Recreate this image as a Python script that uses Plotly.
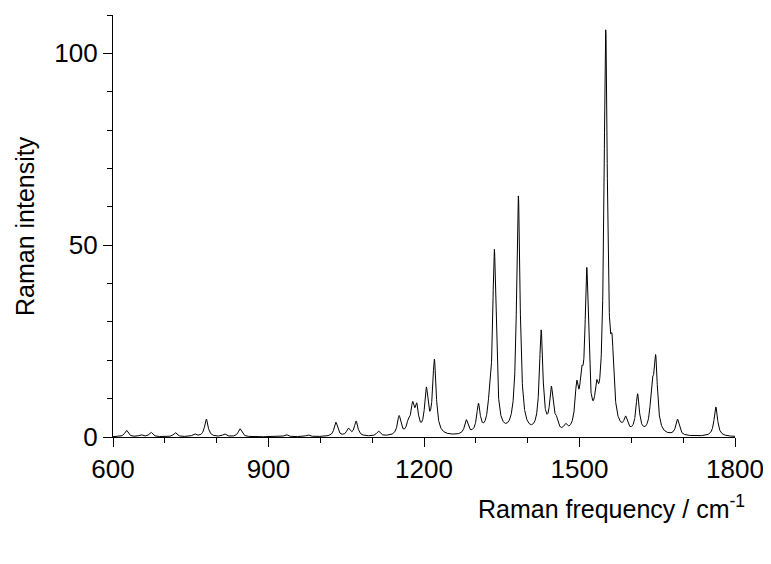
import numpy as np
import plotly.graph_objects as go

# Band positions (cm-1) and heights
peak_pos = [626, 654, 673, 720, 757, 780, 815, 845, 934, 976,
            1030, 1054, 1069, 1112, 1152, 1170, 1178, 1186, 1204.5, 1220,
            1281.6, 1305, 1326, 1335.7, 1382, 1426, 1445.7, 1455, 1473,
            1494.6, 1504, 1514, 1533, 1550.6, 1563, 1589, 1612, 1640, 1647,
            1689, 1763]
peak_int = [1.7, 0.5, 1.2, 1.1, 0.7, 4.6, 0.7, 2.1, 0.6, 0.5,
            3.7, 1.9, 3.9, 1.3, 5.0, 2.6, 6.8, 6.4, 11.2, 19.2,
            3.7, 7.4, 4.3, 47.5, 62.0, 26.5, 11.0, 2.6, 1.6,
            10.5, 10.0, 40.5, 7.3, 103.5, 16.0, 3.3, 10.0, 10.2, 18.4,
            4.2, 7.7]
half_width = 4.0  # Lorentzian HWHM, cm-1

x_ticks = [600, 900, 1200, 1500, 1800]
y_ticks = [0, 50, 100]

# Lorentzian broadening of the band list
wn = np.arange(600, 1800.25, 0.25)
spec = np.zeros_like(wn)
for p, a in zip(peak_pos, peak_int):
    spec += a / (1 + ((wn - p) / half_width) ** 2)

fig = go.Figure()
fig.add_trace(go.Scatter(x=wn, y=spec, mode="lines",
                         line=dict(color="black", width=1), showlegend=False))

font = "Liberation Sans, Arial, sans-serif"
axis_common = dict(
    showgrid=False, zeroline=False, showline=True, linecolor="black", linewidth=1.2,
    ticks="outside", ticklen=9, tickwidth=1.2, tickcolor="black", automargin=False,
    tickfont=dict(family=font, size=26, color="black"),
)
fig.update_xaxes(range=[600, 1800], tickvals=x_ticks,
                 minor=dict(dtick=100, ticks="outside", ticklen=5, tickcolor="black", tickwidth=1.2),
                 **axis_common)
fig.update_yaxes(range=[0, 110], tickvals=y_ticks,
                 minor=dict(dtick=10, ticks="outside", ticklen=5, tickcolor="black", tickwidth=1.2),
                 **axis_common)

fig.add_annotation(text="Raman intensity", xref="paper", yref="paper", x=0, y=0.5,
                   xanchor="center", yanchor="middle", xshift=-88, textangle=-90,
                   showarrow=False, font=dict(family=font, size=25, color="black"))
fig.add_annotation(text="Raman frequency / cm<sup>-1</sup>", xref="paper", yref="paper",
                   x=1, y=0, xanchor="right", yanchor="middle", xshift=12, yshift=-70,
                   showarrow=False, font=dict(family=font, size=25, color="black"))

# page body adds an 8px offset, so the figure is 8px smaller
fig.update_layout(width=763, height=556, plot_bgcolor="white", paper_bgcolor="white",
                  margin=dict(l=105, r=36, t=7, b=127))

fig.write_html("out.html")
